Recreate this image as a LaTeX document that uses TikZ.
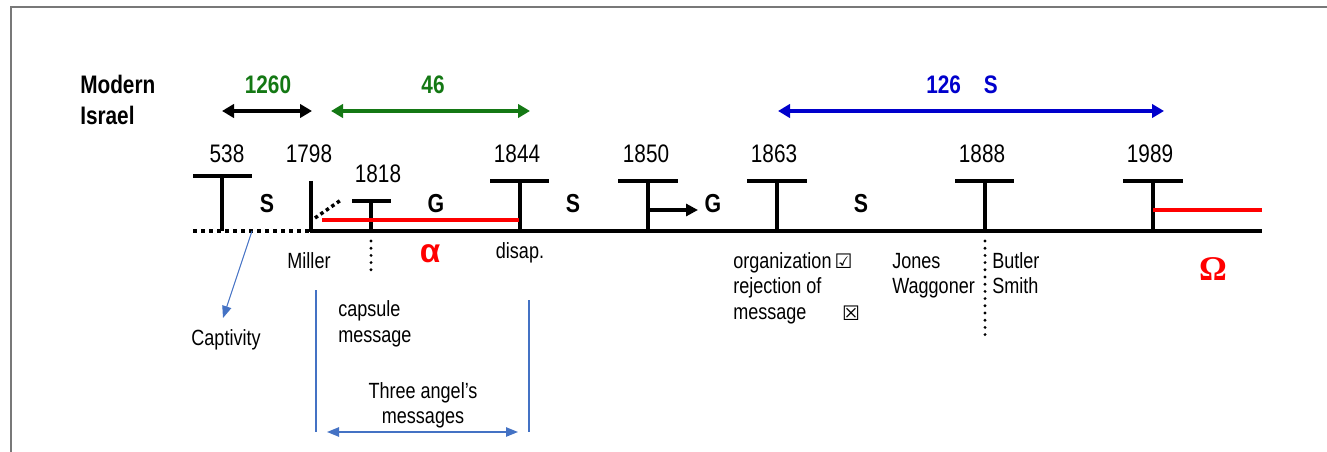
\documentclass[tikz,border=0pt]{standalone}
\usepackage{fontspec}
\setmainfont[FakeStretch=0.82]{Liberation Sans}
\newfontfamily\symfont{DejaVu Sans}
\newfontfamily\grkserif{Liberation Serif}
\newfontfamily\grksans{Liberation Sans}
\usetikzlibrary{arrows.meta}
\definecolor{dgreen}{RGB}{20,120,20}
\definecolor{dblue}{RGB}{0,0,204}
\definecolor{lblue}{RGB}{68,114,196}
\definecolor{framegray}{RGB}{120,120,120}
\tikzset{
  yr/.style={font=\fontsize{19}{22}\selectfont, inner sep=0, anchor=base},
  lbl/.style={font=\fontsize{16.5}{19}\selectfont, inner sep=0},
  seg/.style={font=\fontsize{19.5}{22}\selectfont\bfseries, inner sep=0, anchor=base},
  toplbl/.style={font=\fontsize{19}{22}\selectfont\bfseries, inner sep=0, anchor=base},
  thickln/.style={line width=2.8pt},
  redln/.style={line width=3pt, red},
  dotln/.style={line width=2.8pt, dash pattern=on 3pt off 3pt},
  rounddots/.style={line width=2.4pt, line cap=round, dash pattern=on 0pt off 5.4pt},
  thinblue/.style={line width=0.8pt, lblue},
  bigarrow/.style={line width=3pt, {Triangle[length=9pt,width=10pt]}-{Triangle[length=9pt,width=10pt]}},
  symb/.style={inner sep=0, font=\symfont\fontsize{15}{17}\selectfont\bfseries},
}
\begin{document}
\begin{tikzpicture}[x=0.75pt,y=-0.75pt]
\useasboundingbox (0,0) rectangle (1327,452);
\draw[framegray, line width=1.5pt] (11,452) -- (11,7.5) -- (1327,7.5);

% top labels
\node[toplbl, anchor=base west] (modern) at (80,94) {Modern};
\node[toplbl, anchor=base west] (israel) at (80,125) {Israel};
\node[toplbl, dgreen] (l1260) at (268,94) {1260};
\node[toplbl, dgreen] (l46) at (433,94) {46};
\node[toplbl, dblue] (l126) at (962,94) {126\hspace{0.9em}S};

\coordinate (a1l) at (222,111); \coordinate (a1r) at (312,111);
\coordinate (a2l) at (331,111); \coordinate (a2r) at (530,111);
\coordinate (a3l) at (778,111); \coordinate (a3r) at (1164,111);
\draw[bigarrow, black] (a1l) -- (a1r);
\draw[bigarrow, dgreen] (a2l) -- (a2r);
\draw[bigarrow, dblue] (a3l) -- (a3r);

% main line
\coordinate (start) at (193,231);
\coordinate (b1798) at (311,231);
\coordinate (lineend) at (1262,231);
\draw[dotln] (start) -- (b1798);
\draw[thickln] (309.6,231) -- (lineend);

% 538
\coordinate (b538) at (222,231);
\draw[thickln] (193,176) -- (252,176);
\draw[thickln] (222,176) -- (b538);
\node[yr] (y538) at (227,163) {538};
% 1798
\draw[thickln] (311,181) -- (311,232.4);
\node[yr] (y1798) at (309,163) {1798};
\coordinate (d1) at (315,218); \coordinate (d2) at (341,200);
\draw[line width=2.6pt, dash pattern=on 2.6pt off 2.4pt] (d1) -- (d2);
% 1818
\coordinate (b1818) at (371,231);
\draw[thickln] (352,201) -- (391,201);
\draw[thickln] (371,201) -- (b1818);
\node[yr] (y1818) at (378,183) {1818};
\coordinate (dd1) at (371,241); \coordinate (dd2) at (371,276);
\draw[rounddots] (dd1) -- (dd2);
% 1844
\coordinate (b1844) at (520,231);
\draw[thickln] (490,181) -- (549,181);
\draw[thickln] (520,181) -- (b1844);
\node[yr] (y1844) at (517,163) {1844};
% red alpha line
\coordinate (r1) at (322,220); \coordinate (r2) at (519,220);
\draw[redln] (r1) -- (r2);
% 1850
\coordinate (b1850) at (648,231);
\draw[thickln] (618,181) -- (678,181);
\draw[thickln] (648,181) -- (b1850);
\node[yr] (y1850) at (646,163) {1850};
\coordinate (g1) at (648,210); \coordinate (g2) at (698,210);
\draw[line width=2.6pt, -{Triangle[length=9pt,width=9pt]}] (g1) -- (g2);
% 1863
\coordinate (b1863) at (777,231);
\draw[thickln] (747,181) -- (807,181);
\draw[thickln] (777,181) -- (b1863);
\node[yr] (y1863) at (774,163) {1863};
% 1888
\coordinate (b1888) at (985,231);
\draw[thickln] (955,181) -- (1014,181);
\draw[thickln] (985,181) -- (b1888);
\node[yr] (y1888) at (982,163) {1888};
\coordinate (e1) at (985,241); \coordinate (e2) at (985,338);
\draw[rounddots] (e1) -- (e2);
% 1989
\coordinate (b1989) at (1153,231);
\draw[thickln] (1123,181) -- (1183,181);
\draw[thickln] (1153,181) -- (b1989);
\node[yr] (y1989) at (1150,163) {1989};
\coordinate (o1) at (1153,210); \coordinate (o2) at (1262,210);
\draw[redln] (o1) -- (o2);

% segment letters
\node[seg] (s1) at (267,213) {S};
\node[seg] (g1l) at (436,213) {G};
\node[seg] (s2) at (573,213) {S};
\node[seg] (g2l) at (713,213) {G};
\node[seg] (s3) at (861,213) {S};

% greek
\node[inner sep=0, red, font=\grksans\fontsize{25}{27}\selectfont\bfseries] (alpha) at (430,254) {α};
\node[inner sep=0, red, font=\grkserif\fontsize{26}{28}\selectfont\bfseries] (omega) at (1213,269) {Ω};

% lower labels
\node[lbl, anchor=base] (miller) at (309,268) {Miller};
\node[lbl, anchor=base] (disap) at (520,258) {disap.};
\node[lbl, anchor=base west] (caps1) at (338,316) {capsule};
\node[lbl, anchor=base west] (caps2) at (338,342) {message};
\node[lbl, anchor=base] (three1) at (423,398) {Three angel’s};
\node[lbl, anchor=base] (three2) at (423,423) {messages};
\node[lbl, anchor=base] (capt) at (226,345) {Captivity};

\node[lbl, anchor=base west] (org) at (733,268) {organization};
\node[lbl, anchor=base west] (rej) at (733,293) {rejection of};
\node[lbl, anchor=base west] (msg) at (733,319) {message};
\node[symb] (chk) at (843.5,261) {☑};
\node[symb] (xbox) at (851,313) {☒};
\node[lbl, anchor=base west] (jones) at (892,268) {Jones};
\node[lbl, anchor=base west] (wagg) at (892,293) {Waggoner};
\node[lbl, anchor=base west] (butler) at (992,268) {Butler};
\node[lbl, anchor=base west] (smith) at (992,293) {Smith};

% thin blue
\coordinate (c1) at (252,231); \coordinate (c2) at (223,318);
\draw[thinblue, -{Triangle[length=9pt,width=7pt]}] (c1) -- (c2);
\coordinate (v1t) at (316,290); \coordinate (v1b) at (316,432);
\coordinate (v2t) at (529,300); \coordinate (v2b) at (529,432);
\draw[thinblue] (v1t) -- (v1b);
\draw[thinblue] (v2t) -- (v2b);
\coordinate (h1) at (327,432); \coordinate (h2) at (518,432);
\draw[thinblue, line width=1.1pt, {Triangle[length=9pt,width=7pt]}-{Triangle[length=9pt,width=7pt]}] (h1) -- (h2);
\end{tikzpicture}
\end{document}
